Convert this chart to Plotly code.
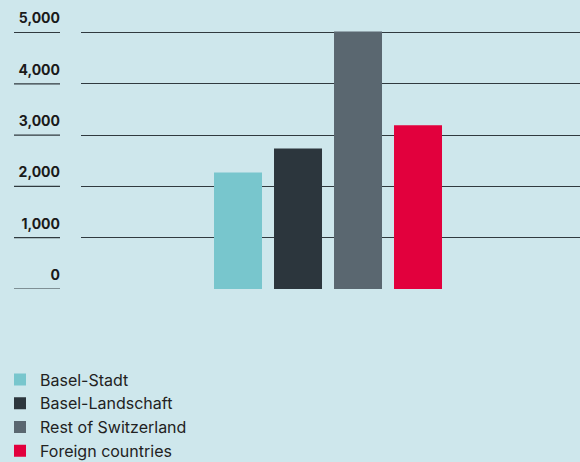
import plotly.graph_objects as go

categories = ["Basel-Stadt", "Basel-Landschaft", "Rest of Switzerland", "Foreign countries"]
values = [2270, 2740, 5020, 3190]
colors = ["#78c6cd", "#2c363d", "#5a6770", "#e2003d"]
tick_vals = [0, 1000, 2000, 3000, 4000, 5000]
tick_text = ["0", "1,000", "2,000", "3,000", "4,000", "5,000"]

BG = "#cee7ec"
LINE = "#303a3f"
W, H = 580, 462
ML, MR, MT, MB = 81, 0, 20, 173
plot_w = W - ML - MR
plot_h = H - MT - MB

fig = go.Figure()
for name, v, c in zip(categories, values, colors):
    fig.add_trace(go.Bar(x=[""], y=[v], name=name, marker=dict(color=c, line=dict(width=0))))

shapes = []
for tv in tick_vals:
    shapes.append(dict(type="line", xref="paper", yref="y",
                       x0=(14 - ML) / plot_w, x1=(60 - ML) / plot_w, y0=tv, y1=tv,
                       line=dict(color=LINE, width=1.2)))

fig.update_layout(
    width=W, height=H,
    margin=dict(l=ML, r=MR, t=MT, b=MB, autoexpand=False),
    paper_bgcolor=BG, plot_bgcolor=BG,
    barmode="group", bargap=1 - 240 / plot_w, bargroupgap=0.2,
    shapes=shapes,
    showlegend=True,
    legend=dict(x=-ML / plot_w, xanchor="left", y=-(362.5 - 289) / plot_h, yanchor="top",
                bgcolor="rgba(0,0,0,0)", font=dict(family="Inter, Liberation Sans, Arial", size=16, color="#222222"),
                traceorder="normal", itemclick=False),
    font=dict(family="Inter, Liberation Sans, Arial", color="#1a1a1a"),
)
fig.update_xaxes(showticklabels=False, showgrid=False, zeroline=False, showline=False,
                 range=[-0.495, 0.505], fixedrange=True)
fig.update_yaxes(range=[0, 5000 * plot_h / 256.5], tickvals=tick_vals, ticktext=tick_text,
                 showgrid=True, gridcolor=LINE, gridwidth=1.2, zeroline=False, showline=False,
                 ticks="", ticklabelstandoff=20, ticklabelshift=-14,
                 tickfont=dict(family="Inter, Liberation Sans, Arial", size=14, color="#1a1a1a", weight="bold"),
                 fixedrange=True)

fig.write_html("out.html", config={"displayModeBar": False},
               post_script="document.body.style.margin='0';document.body.style.padding='0';")
